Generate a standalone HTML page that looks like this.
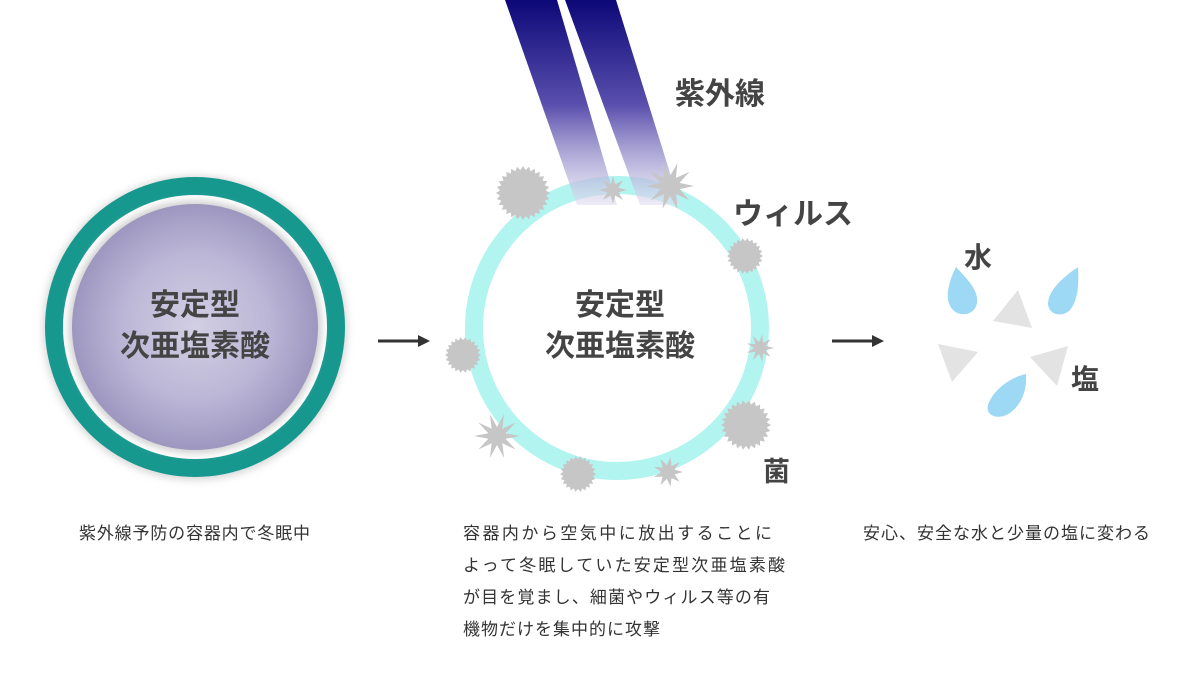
<!DOCTYPE html>
<html><head><meta charset="utf-8"><style>
body{margin:0;background:#fff;}
svg text{font-family:"Liberation Sans","Noto Sans CJK JP",sans-serif;}
</style></head><body>
<svg id="s" width="1200" height="691" viewBox="0 0 1200 691" xmlns="http://www.w3.org/2000/svg">
<defs>
<radialGradient id="pg" cx="50%" cy="50%" r="50%"><stop offset="0" stop-color="#d2cfe3"/><stop offset="0.6" stop-color="#bbb6d6"/><stop offset="1" stop-color="#9d97c0"/></radialGradient>
<linearGradient id="uv" x1="0" y1="0" x2="0" y2="210" gradientUnits="userSpaceOnUse"><stop offset="0" stop-color="#0c0878"/><stop offset="0.5" stop-color="#5a4fad"/><stop offset="1" stop-color="#e8e6f4" stop-opacity="0.6"/></linearGradient>
<filter id="sh" x="-20%" y="-20%" width="140%" height="140%"><feGaussianBlur stdDeviation="4"/></filter>
</defs>
<circle cx="195" cy="328" r="152" fill="#bbb" filter="url(#sh)" opacity="0.6"/>
<circle cx="195" cy="327" r="150" fill="#17988f"/>
<circle cx="195" cy="327" r="132" fill="#fff"/>
<circle cx="195" cy="327" r="126" fill="#ccc" filter="url(#sh)"/>
<circle cx="195" cy="327" r="123" fill="url(#pg)"/>
<text x="195" y="315" font-size="30" font-weight="bold" fill="#444" text-anchor="middle">安定型</text>
<text x="195" y="356" font-size="30" font-weight="bold" fill="#444" text-anchor="middle">次亜塩素酸</text>
<line x1="378" y1="341" x2="420" y2="341" stroke="#333" stroke-width="3"/><polygon points="430,341 418,335 418,347" fill="#333"/>
<line x1="832" y1="341" x2="874" y2="341" stroke="#333" stroke-width="3"/><polygon points="884,341 872,335 872,347" fill="#333"/>
<circle cx="617" cy="328" r="143" fill="none" stroke="#b2f4f0" stroke-width="18"/>
<polygon points="505,0 557,0 617,205 577,205" fill="url(#uv)"/>
<polygon points="565,0 616,0 680,205 640,205" fill="url(#uv)"/>
<text x="620" y="315" font-size="30" font-weight="bold" fill="#444" text-anchor="middle">安定型</text>
<text x="620" y="356" font-size="30" font-weight="bold" fill="#444" text-anchor="middle">次亜塩素酸</text>
<g id="v" fill="#c6c6c6"></g>
<text x="675" y="104" font-size="30" font-weight="bold" fill="#444">紫外線</text>
<text x="733" y="224" font-size="30" font-weight="bold" fill="#444">ウィルス</text>
<text x="763" y="481" font-size="27" font-weight="bold" fill="#444">菌</text>
<text x="964" y="267" font-size="28" font-weight="bold" fill="#444">水</text>
<text x="1071" y="389" font-size="28" font-weight="bold" fill="#444">塩</text>
<g fill="#9dd8f5">
<path d="M956,267 C947,285 945,300 952,309 C960,318 975,315 977,303 C979,290 966,278 956,267Z"/>
<path d="M1078,267 C1062,278 1049,290 1048,303 C1048,315 1062,318 1070,310 C1078,300 1079,285 1078,267Z"/>
<path d="M1026,374 C1008,378 992,392 988,405 C985,417 1000,420 1010,413 C1022,404 1027,390 1026,374Z"/>
</g>
<g fill="#e3e3e3">
<polygon points="1018,290 1032,328 993,321"/>
<polygon points="938,344 978,352 952,382"/>
<polygon points="1068,346 1057,386 1030,357"/>
</g>
<g font-size="17" fill="#333">
<text x="79" y="539" textLength="231" lengthAdjust="spacing">紫外線予防の容器内で冬眠中</text>
<text x="463" y="539" textLength="309" lengthAdjust="spacing">容器内から空気中に放出することに</text>
<text x="463" y="571" textLength="322" lengthAdjust="spacing">よって冬眠していた安定型次亜塩素酸</text>
<text x="463" y="603" textLength="307" lengthAdjust="spacing">が目を覚まし、細菌やウィルス等の有</text>
<text x="463" y="635" textLength="197" lengthAdjust="spacing">機物だけを集中的に攻撃</text>
<text x="863" y="539" textLength="287" lengthAdjust="spacing">安心、安全な水と少量の塩に変わる</text>
</g>
</svg>
<script>
var g=document.getElementById('v');
function sp(cx,cy,r,n,d){var p=[];for(var i=0;i<2*n;i++){var a=Math.PI*i/n;var rr=i%2?r-d:r;p.push((cx+rr*Math.cos(a)).toFixed(1)+','+(cy+rr*Math.sin(a)).toFixed(1));}
var e=document.createElementNS('http://www.w3.org/2000/svg','polygon');e.setAttribute('points',p.join(' '));g.appendChild(e);}
sp(523,193,27,28,4);sp(613,190,14,8,8);sp(670,186,24,10,14);sp(745,256,18,22,3);sp(463,355,18,22,3);
sp(760,348,14,9,8);sp(746,425,25,26,4);sp(497,436,23,10,14);sp(578,474,18,22,3);sp(668,472,15,9,8);
</script>
</body></html>
